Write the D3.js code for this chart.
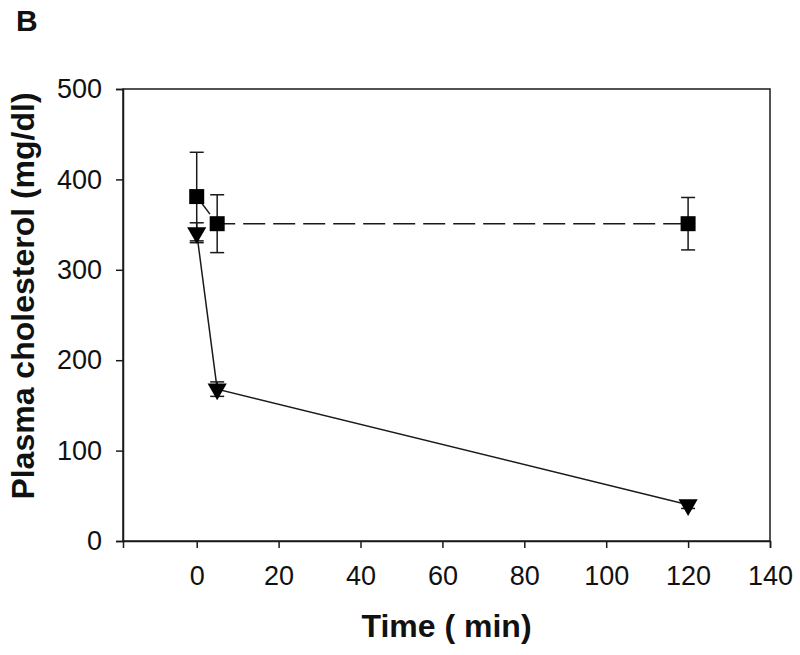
<!DOCTYPE html>
<html><head><meta charset="utf-8">
<script src="https://cdn.jsdelivr.net/npm/d3@7"></script>
<style>body{margin:0;background:#fff}svg{display:block}</style>
</head><body>
<svg id="c" width="800" height="655"></svg>
<script>
const times = [0, 5, 120];
const squareMean = [381, 351, 351];
const squareErr = [49, 32, 29];
const triMean = [341, 168, 40];
const triErr = [11, 8, 4];
const xTicks = [0, 20, 40, 60, 80, 100, 120, 140];
const yTicks = [0, 100, 200, 300, 400, 500];

const svg = d3.select("#c");
const L = 123, R = 770, T = 89, B = 541;
const x = d3.scaleLinear().domain([-18, 140]).range([L, R]);
const y = d3.scaleLinear().domain([0, 500]).range([B, T]);
const font = "Arial, 'Liberation Sans', sans-serif";
const ink = "#1a1a1a";

// frame
svg.append("rect").attr("x", L).attr("y", T).attr("width", R - L).attr("height", B - T)
  .attr("fill", "none").attr("stroke", ink).attr("stroke-width", 1.5);

const xa = svg.append("g").attr("transform", `translate(0,${B})`)
  .call(d3.axisBottom(x).tickValues(xTicks).tickSize(7).tickPadding(18).tickFormat(d3.format("d")));
const ya = svg.append("g").attr("transform", `translate(${L},0)`)
  .call(d3.axisLeft(y).tickValues(yTicks).tickSize(7).tickPadding(14).tickFormat(d3.format("d")));
[xa, ya].forEach(a => {
  a.select(".domain").attr("stroke", ink).attr("stroke-width", 1.5);
  a.selectAll(".tick line").attr("stroke", ink).attr("stroke-width", 1.5);
  a.selectAll(".tick text").attr("font-family", font).attr("font-size", 27).attr("fill", "#111");
});

// error bars
function errBars(means, errs, cap) {
  const g = svg.append("g").attr("stroke", ink).attr("stroke-width", 1.5);
  times.forEach((t, i) => {
    const cx = x(t), y1 = y(means[i] + errs[i]), y2 = y(means[i] - errs[i]);
    g.append("line").attr("x1", cx).attr("x2", cx).attr("y1", y1).attr("y2", y2);
    g.append("line").attr("x1", cx - cap).attr("x2", cx + cap).attr("y1", y1).attr("y2", y1);
    g.append("line").attr("x1", cx - cap).attr("x2", cx + cap).attr("y1", y2).attr("y2", y2);
  });
}
errBars(squareMean, squareErr, 7);
errBars(triMean, triErr, 7);

// lines
const line = d3.line().x(d => x(d[0])).y(d => y(d[1]));
svg.append("path").datum(times.map((t, i) => [t, squareMean[i]]))
  .attr("d", line).attr("fill", "none").attr("stroke", ink).attr("stroke-width", 1.5)
  .attr("stroke-dasharray", "22,8");
svg.append("path").datum(times.map((t, i) => [t, triMean[i]]))
  .attr("d", line).attr("fill", "none").attr("stroke", ink).attr("stroke-width", 1.5);

// markers
const sq = d3.symbol().type(d3.symbolSquare).size(225);
svg.append("g").selectAll("path").data(times).join("path")
  .attr("d", sq).attr("fill", "#000")
  .attr("transform", (t, i) => `translate(${x(t)},${y(squareMean[i])})`);
const tri = d3.symbol().type(d3.symbolTriangle).size(160);
svg.append("g").selectAll("path").data(times).join("path")
  .attr("d", tri).attr("fill", "#000")
  .attr("transform", (t, i) => `translate(${x(t)},${y(triMean[i])}) rotate(180)`);

// titles
svg.append("text").attr("x", (L + R) / 2).attr("y", 637).attr("text-anchor", "middle")
  .attr("font-family", font).attr("font-weight", "bold").attr("font-size", 32).attr("fill", "#111")
  .text("Time ( min)");
svg.append("text").attr("transform", `translate(34,296) rotate(-90)`)
  .attr("text-anchor", "middle")
  .attr("font-family", font).attr("font-weight", "bold").attr("font-size", 32).attr("fill", "#111")
  .text("Plasma cholesterol (mg/dl)");
svg.append("text").attr("x", 16).attr("y", 31)
  .attr("font-family", font).attr("font-weight", "bold").attr("font-size", 30).attr("fill", "#111")
  .text("B");
</script>
</body></html>
